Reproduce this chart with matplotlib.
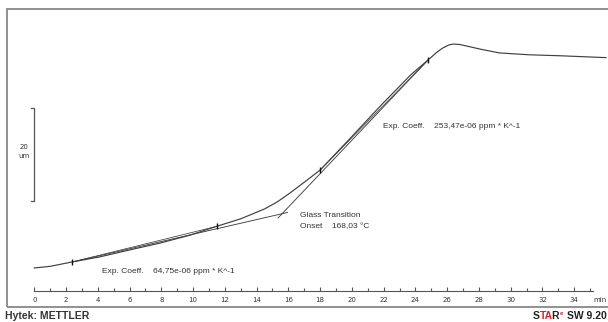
import numpy as np
import matplotlib.pyplot as plt
from matplotlib.patches import Rectangle

# TMA curve: time (min) vs. dimension change (um)
time_min = [0.0, 1.0, 2.4, 4.1, 6.0, 7.9, 9.8, 11.5, 13.0, 14.5, 15.3, 16.1, 17.0,
            18.0, 19.9, 21.8, 23.7, 24.8, 25.3, 25.7, 26.1, 26.4, 26.8, 27.2,
            28.1, 29.3, 31.2, 33.1, 36.0]
length_um = [0.0, 0.35, 1.3, 2.35, 3.85, 5.3, 7.0, 8.9, 10.5, 12.6, 14.1, 16.0, 18.3,
             20.9, 27.7, 34.6, 41.2, 44.4, 45.9, 46.9, 47.6, 47.8, 47.7, 47.4,
             46.7, 45.9, 45.5, 45.3, 44.9]

# evaluation markers
mark_t = [2.4, 11.5, 18.0, 24.8]
mark_d = [1.3, 8.9, 20.9, 44.4]

# tangent lines of the glass transition
low_tan_t = [2.4, 15.95]
low_tan_d = [1.28, 11.85]
up_tan_t = [15.35, 24.8]
up_tan_d = [10.67, 44.4]

xticks_major = np.arange(0, 35, 2)
xticks_minor = np.arange(1, 36, 2)

fig = plt.figure(figsize=(6.08, 3.22), dpi=100)
ax = fig.add_axes([0, 0, 1, 1])
ax.set_xlim(-2.16, 36.13)
ax.set_ylim(-11.53, 57.2)
ax.patch.set_alpha(0)

line_c = '#404040'
ax.plot(time_min, length_um, color=line_c, lw=0.85)
ax.plot(low_tan_t, low_tan_d, color=line_c, lw=0.65)
ax.plot(up_tan_t, up_tan_d, color=line_c, lw=0.65)
ax.plot(mark_t[:2], mark_d[:2], color=line_c, lw=0.55)
ax.plot(mark_t[2:], mark_d[2:], color=line_c, lw=0.55)
ax.plot(mark_t, mark_d, ls='none', marker='|', ms=4, mew=1.0, color='#111111')

# x axis
for s in ['left', 'right', 'top']:
    ax.spines[s].set_visible(False)
ax.spines['bottom'].set_position(('data', -4.91))
ax.spines['bottom'].set_bounds(0, 35.2)
ax.spines['bottom'].set_color('#555555')
ax.spines['bottom'].set_linewidth(0.8)
ax.set_xticks(xticks_major)
ax.set_xticks(xticks_minor, minor=True)
ax.set_xticklabels([str(v) for v in xticks_major])
ax.tick_params(axis='x', which='both', direction='in', colors='#555555',
               labelsize=5, pad=4, labelcolor='#333333')
ax.tick_params(axis='x', which='major', length=3, width=0.8)
ax.tick_params(axis='x', which='minor', length=2, width=0.8)
ax.set_yticks([])
ax.text(35.6, -6.8, 'min', fontsize=5, color='#333333', ha='center', va='center')

# scale bar 20 um
ax.plot([-0.2, 0, 0, -0.2], [34.2, 34.2, 14.2, 14.2], color='#555555', lw=0.9)
ax.text(-0.65, 25.8, '20', fontsize=5, ha='center', va='center', color='#333333')
ax.text(-0.65, 23.9, 'um', fontsize=5, ha='center', va='center', color='#333333')

fs = 6
tf = 'Liberation Sans'
ax.text(21.96, 30.1, 'Exp. Coeff.    253,47e-06 ppm * K^-1', fontsize=fs,
        family=tf, va='center', color='#333333')
ax.text(4.26, -0.85, 'Exp. Coeff.    64,75e-06 ppm * K^-1', fontsize=fs,
        family=tf, va='center', color='#333333')
ax.text(16.73, 11.1, 'Glass Transition', fontsize=fs, family=tf, va='center', color='#333333')
ax.text(16.73, 8.86, 'Onset    168,03 °C', fontsize=fs, family=tf, va='center', color='#333333')

# outer frame
fig.patches.append(Rectangle((7 / 608, 15 / 322), 1.1, 298 / 322, transform=fig.transFigure,
                             fill=False, edgecolor='#888888', lw=1.3))

fig.text(5 / 608, 6 / 322, 'Hytek: METTLER', fontsize=7.5, family=tf, weight='bold',
         color='#333333', va='center', ha='left')

# STARe logo, laid out piece by piece
fig.canvas.draw()
r = fig.canvas.get_renderer()
kw = dict(fontsize=7.5, family=tf, weight='bold', va='center')
probe = fig.text(0, 0, '', **kw)


def width(s):
    probe.set_text(s)
    return probe.get_window_extent(r).width


w_sw = width('SW 9.20')
w_star = width('STAR')
x0 = 607 - w_sw - 7 - w_star
prefix = ''
for txt, col, nudge in [('S', '#222222', 0), ('TA', '#e02020', 0.5), ('R', '#222222', -1.5)]:
    prefix += txt
    xl = x0 + width(prefix) - width(txt) + nudge
    fig.text(xl / 608, 6 / 322, txt, color=col, ha='left', **kw)
probe.remove()
fig.text((x0 + w_star - 0.5) / 608, 8.5 / 322, 'e', fontsize=4.5, family=tf, weight='bold',
         color='#e02020', va='center', ha='left')
fig.text(607 / 608, 6 / 322, 'SW 9.20', color='#222222', ha='right', **kw)

fig.savefig('out.png', dpi=100)
